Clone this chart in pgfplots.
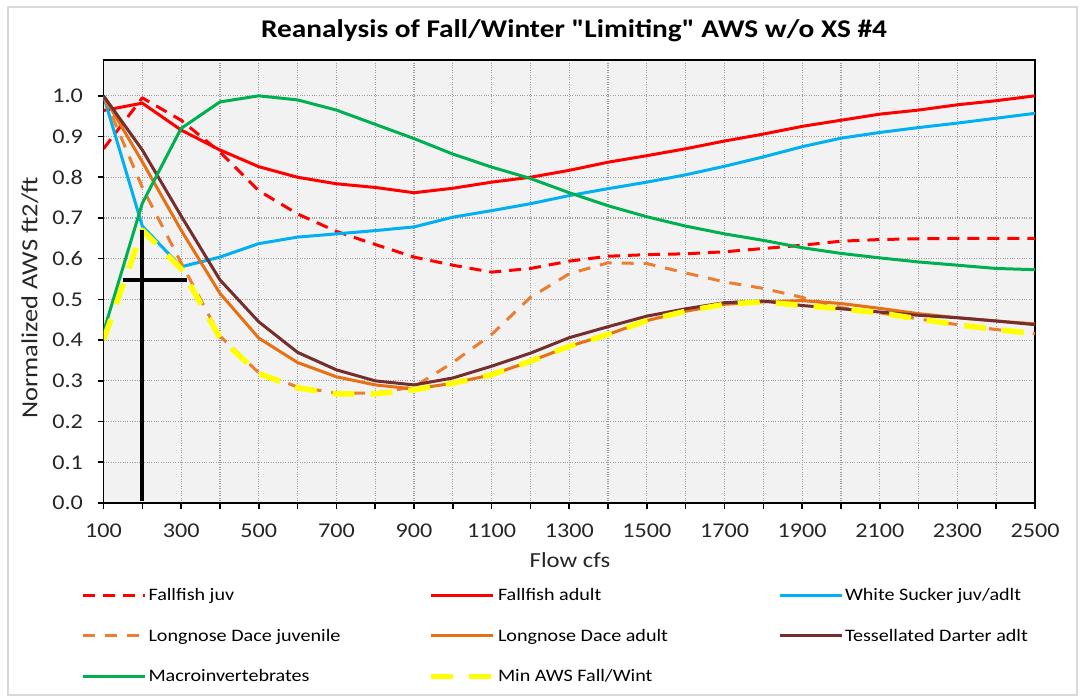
\documentclass[border=0pt]{standalone}
\usepackage{pgfplots}
\usepackage{pgfplotstable}
\pgfplotsset{compat=1.18}
\usepackage{fontspec}
\setmainfont{Carlito}[FakeStretch=1.15, Ligatures=TeXOff]
\definecolor{cRed}{RGB}{255,0,0}
\definecolor{cBlue}{RGB}{0,176,240}
\definecolor{cOrgD}{RGB}{237,125,49}
\definecolor{cOrg}{RGB}{232,112,20}
\definecolor{cBrown}{RGB}{116,46,46}
\definecolor{cGreen}{RGB}{0,176,80}
\definecolor{cYellow}{RGB}{255,255,0}
\definecolor{cBg}{RGB}{242,242,242}
\definecolor{cGrid}{RGB}{160,160,160}

\pgfplotstableread{
x    ffj    ffa    ws     ldj    lda    td     mac    mn
100  0.870  0.964  1.000  1.000  1.000  1.000  0.420  0.400
200  0.995  0.982  0.680  0.775  0.838  0.867  0.736  0.670
300  0.940  0.916  0.580  0.590  0.670  0.705  0.920  0.575
400  0.862  0.867  0.604  0.410  0.515  0.548  0.985  0.405
500  0.767  0.826  0.637  0.320  0.405  0.445  1.000  0.318
600  0.710  0.800  0.653  0.285  0.345  0.370  0.990  0.283
700  0.667  0.784  0.661  0.270  0.310  0.327  0.965  0.268
800  0.635  0.775  0.669  0.270  0.290  0.300  0.930  0.268
900  0.604  0.762  0.678  0.285  0.280  0.290  0.895  0.278
1000 0.584  0.773  0.702  0.345  0.294  0.307  0.857  0.294
1100 0.567  0.788  0.718  0.414  0.315  0.336  0.825  0.315
1200 0.576  0.800  0.735  0.505  0.348  0.368  0.797  0.348
1300 0.594  0.817  0.755  0.563  0.385  0.406  0.762  0.385
1400 0.606  0.837  0.772  0.590  0.414  0.433  0.730  0.414
1500 0.610  0.853  0.788  0.588  0.448  0.459  0.703  0.448
1600 0.612  0.870  0.806  0.565  0.471  0.477  0.680  0.471
1700 0.617  0.889  0.827  0.543  0.488  0.492  0.661  0.488
1800 0.625  0.906  0.850  0.527  0.494  0.496  0.645  0.494
1900 0.633  0.925  0.875  0.505  0.497  0.485  0.627  0.485
2000 0.643  0.940  0.896  0.480  0.490  0.477  0.613  0.477
2100 0.647  0.955  0.910  0.467  0.478  0.469  0.602  0.467
2200 0.649  0.965  0.922  0.452  0.465  0.461  0.592  0.452
2300 0.650  0.978  0.933  0.438  0.455  0.455  0.584  0.438
2400 0.650  0.988  0.945  0.426  0.447  0.447  0.576  0.426
2500 0.650  1.000  0.957  0.416  0.440  0.438  0.573  0.416
}\datatable

\begin{document}
\begin{tikzpicture}
\path[use as bounding box] (0,0) rectangle (1080bp,698bp);
\draw[color=black!15, line width=1.5bp] (8bp,3bp) rectangle (1077bp,691bp);
\node[font=\fontsize{25.5bp}{30bp}\selectfont\bfseries] at (574bp,667bp) {Reanalysis of Fall/Winter "Limiting" AWS w/o XS \#4};
\begin{axis}[
  at={(103.5bp,195bp)}, anchor=south west,
  width=931.5bp, height=443bp, scale only axis,
  xmin=100, xmax=2500, ymin=0, ymax=1.088,
  axis background/.style={fill=cBg},
  axis line style={black, line width=1.6bp},
  xtick={100,200,...,2500},
  xticklabels={100,,300,,500,,700,,900,,1100,,1300,,1500,,1700,,1900,,2100,,2300,,2500},
  ytick={0,0.1,...,1.0},
  yticklabel style={xshift=-11bp, /pgf/number format/.cd, fixed, fixed zerofill, precision=1},
  /pgf/number format/assume math mode=true,
  ticklabel style={font=\fontsize{21bp}{24bp}\selectfont, color=black!85},
  xticklabel style={yshift=-11bp},
  tick align=outside, major tick length=6bp,
  tick style={black, line width=1.6bp},
  xtick pos=bottom, ytick pos=left,
  grid=major,
  major grid style={cGrid, dotted, line width=1.2bp},
  xlabel={Flow cfs}, ylabel={Normalized AWS ft2/ft},
  xlabel style={font=\fontsize{21.5bp}{24bp}\selectfont, color=black!85,
    at={(axis description cs:0.5008,-0.1287)}, anchor=center},
  ylabel style={font=\fontsize{23bp}{26bp}\selectfont, color=black!85,
    at={(axis description cs:-0.079,0.463)}, anchor=center},
  legend columns=3,
  legend style={draw=none, fill=none, at={(-0.027,-0.183)}, anchor=north west,
    font=\fontsize{17.5bp}{21bp}\selectfont, column sep=0bp, row sep=23bp,
    /tikz/every even column/.append style={column sep=6bp}},
  legend cell align=left,
  legend image code/.code={\draw[#1] (0bp,0bp) -- (62bp,0bp);},
  every axis plot/.append style={line join=round},
]
\addplot[cRed, line width=3bp, dash pattern=on 12bp off 8bp] table[x=x,y=ffj]{\datatable};
\addlegendentry{\makebox[272bp][l]{Fallfish juv}}
\addplot[cRed, line width=3bp] table[x=x,y=ffa]{\datatable};
\addlegendentry{\makebox[272bp][l]{Fallfish adult}}
\addplot[cBlue, line width=3bp] table[x=x,y=ws]{\datatable};
\addlegendentry{\makebox[200bp][l]{White Sucker juv/adlt}}
\addplot[cOrgD, line width=3bp, dash pattern=on 12bp off 10bp] table[x=x,y=ldj]{\datatable};
\addlegendentry{\makebox[272bp][l]{Longnose Dace juvenile}}
\addplot[cOrg, line width=3bp] table[x=x,y=lda]{\datatable};
\addlegendentry{\makebox[272bp][l]{Longnose Dace adult}}
\addplot[cBrown, line width=3bp] table[x=x,y=td]{\datatable};
\addlegendentry{\makebox[200bp][l]{Tessellated Darter adlt}}
\addplot[cGreen, line width=3bp] table[x=x,y=mac]{\datatable};
\addlegendentry{\makebox[272bp][l]{Macroinvertebrates}}
\addplot[cYellow, line width=5.5bp, dash pattern=on 22bp off 16bp] table[x=x,y=mn]{\datatable};
\addlegendentry{\makebox[272bp][l]{Min AWS Fall/Wint}}
\addplot[black, line width=4bp, forget plot] coordinates {(200,0.005) (200,0.67)};
\addplot[black, line width=4bp, forget plot] coordinates {(150,0.548) (314,0.548)};
\end{axis}
\end{tikzpicture}
\end{document}
